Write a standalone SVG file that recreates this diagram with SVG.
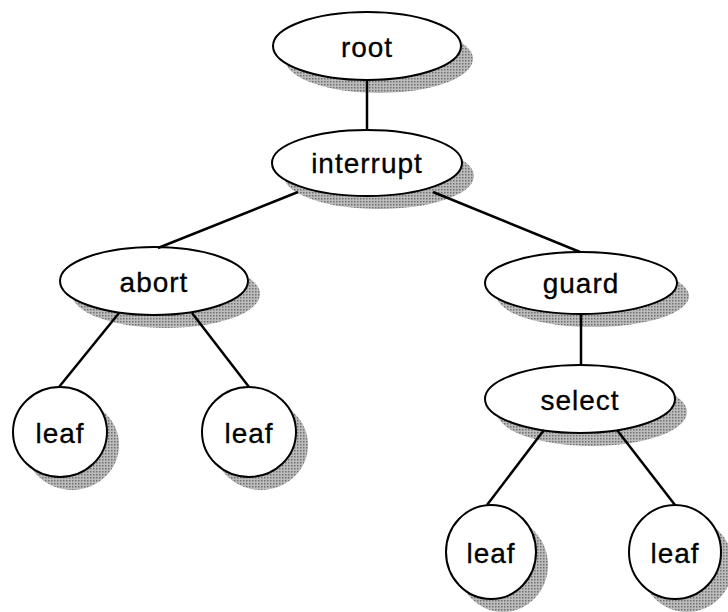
<svg xmlns="http://www.w3.org/2000/svg" width="728" height="612" viewBox="0 0 728 612">
<defs>
<pattern id="ht" width="3" height="3" patternUnits="userSpaceOnUse">
<rect width="3" height="3" fill="#bcbcbc"/>
<rect width="1.5" height="1.5" fill="#707070"/>
</pattern>
<style>
.sh{fill:url(#ht);stroke:none}
.nd{fill:#fff;stroke:#000;stroke-width:2}
.lb{font-family:"Liberation Sans",Arial,sans-serif;font-size:28px;letter-spacing:1px;fill:#000;stroke:#000;stroke-width:0.3;text-anchor:middle}
.cn line{stroke:#000;stroke-width:2.5}
</style>
</defs>
<rect width="728" height="612" fill="#fff"/>
<g id="root">
<ellipse class="sh" cx="379" cy="59" rx="94" ry="34"/>
<ellipse class="nd" cx="367" cy="46" rx="94" ry="34"/>
<text class="lb" x="367" y="57">root</text>
</g>
<g id="interrupt">
<ellipse class="sh" cx="379" cy="176" rx="95" ry="33"/>
<ellipse class="nd" cx="367" cy="163" rx="95" ry="33"/>
<text class="lb" x="367" y="173">interrupt</text>
</g>
<g id="abort">
<ellipse class="sh" cx="166" cy="294" rx="94" ry="34"/>
<ellipse class="nd" cx="154" cy="281" rx="94" ry="34"/>
<text class="lb" x="154" y="292">abort</text>
</g>
<g id="guard">
<ellipse class="sh" cx="593" cy="296" rx="96" ry="31"/>
<ellipse class="nd" cx="581" cy="283" rx="96" ry="31"/>
<text class="lb" x="581" y="293">guard</text>
</g>
<g id="select">
<ellipse class="sh" cx="592" cy="412" rx="95" ry="34"/>
<ellipse class="nd" cx="580" cy="399" rx="95" ry="34"/>
<text class="lb" x="580" y="410">select</text>
</g>
<g id="leaf1">
<ellipse class="sh" cx="72" cy="445" rx="47" ry="45"/>
<ellipse class="nd" cx="60" cy="432" rx="47" ry="45"/>
<text class="lb" x="60" y="443">leaf</text>
</g>
<g id="leaf2">
<ellipse class="sh" cx="261" cy="445" rx="47" ry="45"/>
<ellipse class="nd" cx="249" cy="432" rx="47" ry="45"/>
<text class="lb" x="249" y="443">leaf</text>
</g>
<g id="leaf3">
<ellipse class="sh" cx="503" cy="565" rx="45" ry="47"/>
<ellipse class="nd" cx="491" cy="552" rx="45" ry="47"/>
<text class="lb" x="491" y="563">leaf</text>
</g>
<g id="leaf4">
<ellipse class="sh" cx="687" cy="565" rx="46" ry="47"/>
<ellipse class="nd" cx="675" cy="552" rx="46" ry="47"/>
<text class="lb" x="675" y="563">leaf</text>
</g>
<g class="cn" id="connectors">
<line x1="367" y1="80" x2="367" y2="130"/>
<line x1="298" y1="192" x2="158" y2="248"/>
<line x1="433" y1="192" x2="580" y2="252"/>
<line x1="119" y1="313" x2="59" y2="387"/>
<line x1="192" y1="313" x2="249" y2="387"/>
<line x1="581" y1="314" x2="581" y2="365"/>
<line x1="544" y1="430" x2="487" y2="505"/>
<line x1="617" y1="430" x2="675" y2="505"/>
</g>
</svg>
